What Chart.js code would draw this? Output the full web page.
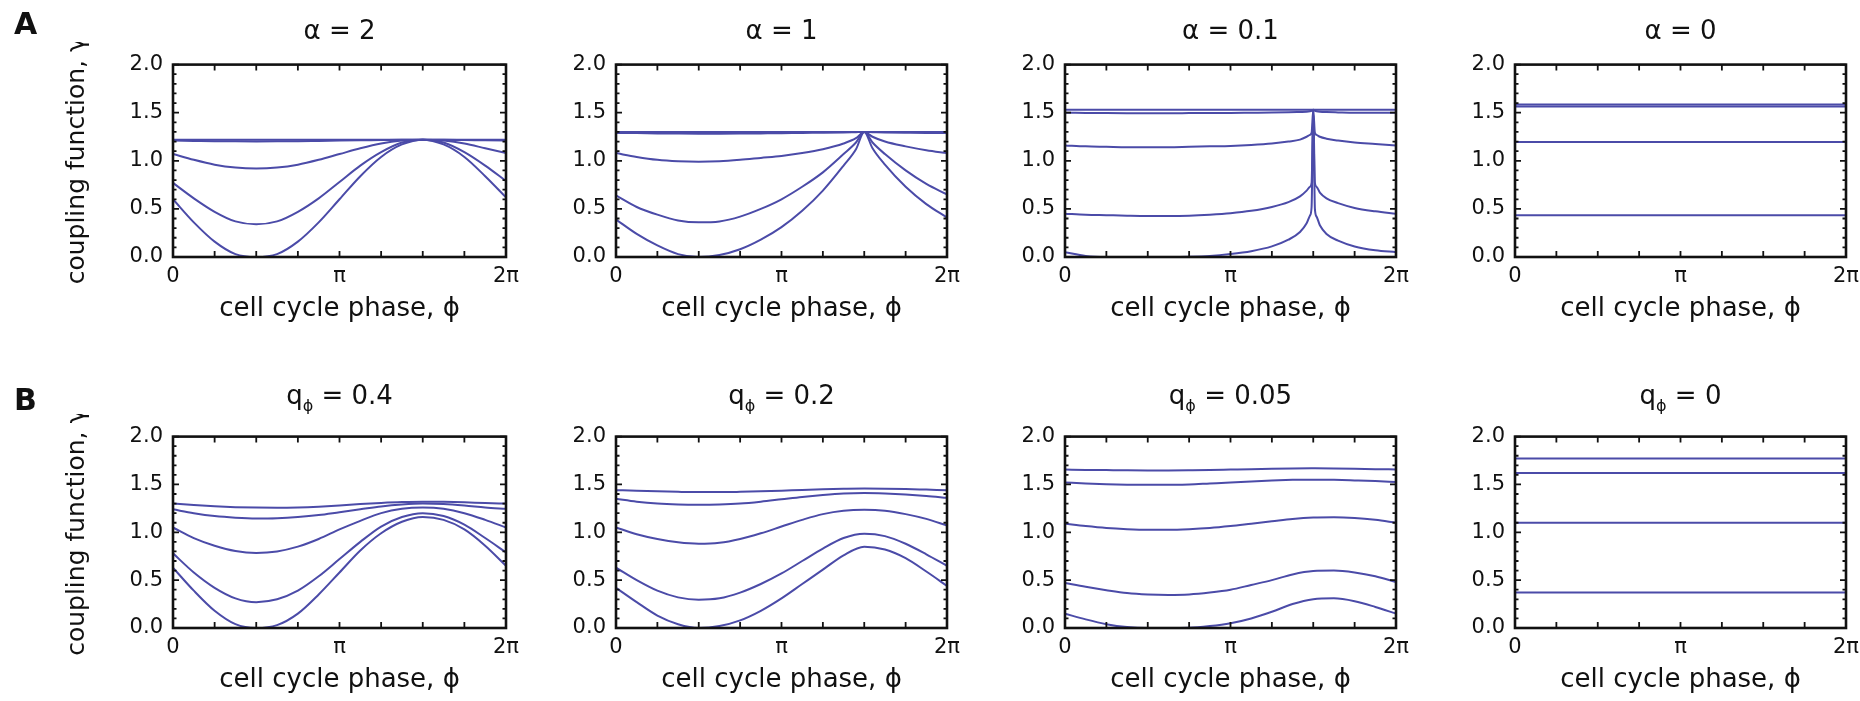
<!DOCTYPE html>
<html>
<head>
<meta charset="utf-8">
<script src="https://cdn.jsdelivr.net/npm/chart.js@4.4.0/dist/chart.umd.min.js"></script>
<style>
body { margin: 0; background: #fff; }
#fig { position: relative; width: 1860px; height: 701px; overflow: hidden; font-family: 'DejaVu Sans', sans-serif; color: #111; }
#fig canvas { position: absolute; }
.title { position: absolute; text-align: center; font-size: 26px; line-height: 30px; white-space: nowrap; }
.title sub { font-size: 16px; vertical-align: -7px; line-height: 0; }
.letter { position: absolute; font-weight: bold; font-size: 30px; line-height: 34px; }
</style>
</head>
<body>
<div id="fig"></div>
<script>
// phase in units of pi (0 .. 2)
const phase = [0, 0.125, 0.25, 0.375, 0.5, 0.625, 0.75, 0.875, 1, 1.125, 1.25, 1.375, 1.5, 1.625, 1.75, 1.875, 2];
const phaseCusp = [0, 0.125, 0.25, 0.375, 0.5, 0.625, 0.75, 0.875, 1, 1.125, 1.25, 1.375, 1.45, 1.5, 1.55, 1.625, 1.75, 1.875, 2];
const phaseSpike = [0, 0.125, 0.25, 0.375, 0.5, 0.625, 0.75, 0.875, 1, 1.125, 1.25, 1.35, 1.42, 1.46, 1.48, 1.49, 1.5, 1.51, 1.52, 1.54, 1.58, 1.65, 1.75, 1.875, 2];
const phaseFlat = [0, 2];

// row A: alpha = 2, 1, 0.1, 0
const alpha2 = [
  [1.22, 1.22, 1.22, 1.22, 1.22, 1.22, 1.22, 1.22, 1.22, 1.22, 1.22, 1.22, 1.22, 1.22, 1.22, 1.22, 1.22],
  [1.21, 1.207, 1.204, 1.202, 1.201, 1.202, 1.204, 1.207, 1.21, 1.213, 1.216, 1.219, 1.22, 1.219, 1.216, 1.213, 1.21],
  [1.07, 1.01, 0.96, 0.93, 0.92, 0.93, 0.96, 1.01, 1.07, 1.13, 1.18, 1.21, 1.22, 1.21, 1.18, 1.13, 1.08],
  [0.77, 0.61, 0.47, 0.37, 0.34, 0.37, 0.47, 0.61, 0.78, 0.95, 1.09, 1.19, 1.22, 1.19, 1.09, 0.95, 0.79],
  [0.60, 0.36, 0.16, 0.03, 0, 0.03, 0.16, 0.36, 0.60, 0.84, 1.04, 1.17, 1.22, 1.17, 1.04, 0.84, 0.62]
];
const alpha1 = [
  [1.30, 1.30, 1.30, 1.30, 1.30, 1.30, 1.30, 1.30, 1.30, 1.30, 1.30, 1.30, 1.30, 1.30, 1.30, 1.30, 1.30, 1.30, 1.30],
  [1.29, 1.288, 1.285, 1.283, 1.282, 1.282, 1.283, 1.285, 1.287, 1.29, 1.292, 1.295, 1.298, 1.30, 1.298, 1.295, 1.292, 1.29, 1.29],
  [1.08, 1.04, 1.01, 0.995, 0.99, 0.995, 1.01, 1.03, 1.05, 1.08, 1.12, 1.18, 1.235, 1.30, 1.25, 1.20, 1.15, 1.11, 1.08],
  [0.64, 0.52, 0.44, 0.38, 0.36, 0.37, 0.42, 0.50, 0.60, 0.73, 0.88, 1.07, 1.19, 1.30, 1.19, 1.07, 0.90, 0.76, 0.65],
  [0.39, 0.24, 0.12, 0.03, 0, 0.02, 0.08, 0.18, 0.31, 0.48, 0.69, 0.95, 1.12, 1.30, 1.13, 0.96, 0.73, 0.55, 0.41]
];
const alpha01 = [
  [1.53, 1.53, 1.53, 1.53, 1.53, 1.53, 1.53, 1.53, 1.53, 1.53, 1.53, 1.53, 1.53, 1.53, 1.53, 1.53, 1.53, 1.53, 1.53, 1.53, 1.53, 1.53, 1.53, 1.53, 1.53],
  [1.50, 1.498, 1.496, 1.495, 1.495, 1.495, 1.496, 1.497, 1.498, 1.50, 1.502, 1.505, 1.508, 1.51, 1.515, 1.52, 1.53, 1.52, 1.515, 1.51, 1.506, 1.503, 1.50, 1.50, 1.50],
  [1.16, 1.15, 1.145, 1.14, 1.14, 1.14, 1.145, 1.15, 1.155, 1.165, 1.18, 1.20, 1.22, 1.25, 1.27, 1.29, 1.53, 1.29, 1.27, 1.25, 1.23, 1.21, 1.19, 1.175, 1.16],
  [0.45, 0.44, 0.435, 0.43, 0.427, 0.427, 0.43, 0.44, 0.455, 0.48, 0.52, 0.57, 0.63, 0.69, 0.73, 0.77, 1.53, 0.77, 0.73, 0.67, 0.61, 0.56, 0.51, 0.475, 0.45],
  [0.05, 0.01, 0, 0, 0, 0, 0.002, 0.01, 0.03, 0.06, 0.11, 0.18, 0.26, 0.35, 0.43, 0.52, 1.53, 0.50, 0.42, 0.33, 0.24, 0.17, 0.11, 0.07, 0.05]
];
const alpha0 = [
  [1.585, 1.585],
  [1.565, 1.565],
  [1.195, 1.195],
  [0.435, 0.435]
];

// row B: q_phi = 0.4, 0.2, 0.05, 0
const q04 = [
  [1.30, 1.285, 1.272, 1.263, 1.258, 1.257, 1.26, 1.268, 1.28, 1.295, 1.307, 1.316, 1.32, 1.318, 1.313, 1.305, 1.30],
  [1.24, 1.20, 1.17, 1.153, 1.145, 1.148, 1.16, 1.18, 1.21, 1.24, 1.27, 1.29, 1.30, 1.295, 1.28, 1.26, 1.245],
  [1.05, 0.94, 0.86, 0.805, 0.785, 0.80, 0.85, 0.93, 1.03, 1.12, 1.20, 1.245, 1.258, 1.245, 1.20, 1.13, 1.05],
  [0.78, 0.58, 0.42, 0.31, 0.27, 0.30, 0.39, 0.54, 0.72, 0.90, 1.06, 1.16, 1.20, 1.17, 1.08, 0.94, 0.79],
  [0.63, 0.39, 0.18, 0.04, 0, 0.03, 0.15, 0.35, 0.58, 0.81, 0.99, 1.11, 1.16, 1.13, 1.03, 0.86, 0.65]
];
const q02 = [
  [1.44, 1.435, 1.428, 1.423, 1.42, 1.42, 1.423, 1.428, 1.435, 1.443, 1.45, 1.455, 1.458, 1.456, 1.452, 1.446, 1.44],
  [1.35, 1.32, 1.30, 1.29, 1.287, 1.29, 1.30, 1.32, 1.345, 1.37, 1.39, 1.405, 1.41, 1.405, 1.395, 1.38, 1.36],
  [1.05, 0.98, 0.93, 0.895, 0.88, 0.89, 0.93, 0.99, 1.06, 1.13, 1.19, 1.225, 1.235, 1.225, 1.19, 1.14, 1.07],
  [0.63, 0.50, 0.39, 0.32, 0.295, 0.31, 0.37, 0.46, 0.57, 0.70, 0.83, 0.94, 0.985, 0.96, 0.88, 0.77, 0.65],
  [0.42, 0.27, 0.13, 0.04, 0, 0.02, 0.08, 0.18, 0.31, 0.46, 0.61, 0.76, 0.85, 0.82, 0.73, 0.59, 0.44]
];
const q005 = [
  [1.655, 1.652, 1.65, 1.648, 1.647, 1.647, 1.648, 1.65, 1.655, 1.66, 1.664, 1.667, 1.668, 1.667, 1.664, 1.66, 1.657],
  [1.52, 1.51, 1.503, 1.498, 1.496, 1.497, 1.50, 1.51, 1.52, 1.532, 1.542, 1.548, 1.55, 1.548, 1.542, 1.535, 1.525],
  [1.09, 1.065, 1.045, 1.033, 1.027, 1.027, 1.033, 1.045, 1.065, 1.09, 1.115, 1.14, 1.155, 1.158, 1.15, 1.13, 1.10],
  [0.47, 0.43, 0.395, 0.365, 0.35, 0.345, 0.35, 0.37, 0.40, 0.45, 0.50, 0.56, 0.595, 0.60, 0.58, 0.54, 0.48],
  [0.15, 0.09, 0.04, 0.01, 0, 0, 0.002, 0.02, 0.05, 0.10, 0.17, 0.25, 0.30, 0.31, 0.28, 0.22, 0.15]
];
const q0 = [
  [1.77, 1.77],
  [1.62, 1.62],
  [1.10, 1.10],
  [0.37, 0.37]
];

const alphaTitles = ['2', '1', '0.1', '0'];
const qTitles = ['0.4', '0.2', '0.05', '0'];
const piLabels = { 0: '0', 1: 'π', 2: '2π' };

const lineColor = '#4b4ba8';
const textColor = '#111';
const fontFam = "'DejaVu Sans', sans-serif";

// where the plot boxes sit on the page
const panelLeft = [173, 616, 1065, 1515];
const panelWidth = [333, 331, 331, 331];
const rowTop = [52, 424];
const rowHeight = [205, 204];

const fig = document.getElementById('fig');

function isHalf(v) {
  return Math.abs(v * 2 - Math.round(v * 2)) < 1e-6;
}

// box round the plot, ticks pointing inwards on all four sides
const frameTicks = {
  id: 'frameTicks',
  afterDatasetsDraw(chart) {
    const { ctx, chartArea: a, scales: { x, y } } = chart;
    ctx.save();
    ctx.strokeStyle = '#111';
    ctx.lineWidth = 1.8;
    ctx.beginPath();
    x.ticks.forEach(t => {
      const px = x.getPixelForValue(t.value);
      ctx.moveTo(px, a.bottom); ctx.lineTo(px, a.bottom - 6);
      ctx.moveTo(px, a.top); ctx.lineTo(px, a.top + 6);
    });
    y.ticks.forEach(t => {
      const py = y.getPixelForValue(t.value);
      const len = isHalf(t.value) ? 6 : 3.5;
      ctx.moveTo(a.left, py); ctx.lineTo(a.left + len, py);
      ctx.moveTo(a.right, py); ctx.lineTo(a.right - len, py);
    });
    ctx.stroke();
    ctx.lineWidth = 2.6;
    ctx.strokeRect(a.left, a.top, a.right - a.left, a.bottom - a.top);
    ctx.restore();
  }
};

function makePanel(row, col, xs, curves, titleHtml) {
  const yW = col === 0 ? 150 : 60;
  const w = yW + panelWidth[col] + 25;
  const h = 10 + rowHeight[row] + 68;
  const canvas = document.createElement('canvas');
  canvas.width = w;
  canvas.height = h;
  canvas.style.left = (panelLeft[col] - yW) + 'px';
  canvas.style.top = (rowTop[row] - 10) + 'px';
  canvas.style.width = w + 'px';
  canvas.style.height = h + 'px';
  fig.appendChild(canvas);

  const title = document.createElement('div');
  title.className = 'title';
  title.style.left = panelLeft[col] + 'px';
  title.style.width = panelWidth[col] + 'px';
  title.style.top = (row === 0 ? 15 : 380) + 'px';
  title.innerHTML = titleHtml;
  fig.appendChild(title);

  new Chart(canvas, {
    type: 'line',
    data: {
      datasets: curves.map(ys => ({
        data: xs.map((x, i) => ({ x: x, y: ys[i] })),
        borderColor: lineColor,
        borderWidth: 2,
        pointRadius: 0,
        fill: false,
        cubicInterpolationMode: 'monotone'
      }))
    },
    options: {
      responsive: false,
      animation: false,
      events: [],
      layout: { padding: { top: 10, right: 25, left: 0, bottom: 0 } },
      plugins: { legend: { display: false }, tooltip: { enabled: false } },
      scales: {
        x: {
          type: 'linear', min: 0, max: 2,
          grid: { display: false, drawTicks: false },
          border: { display: false },
          afterFit: s => { s.height = 68; },
          ticks: {
            stepSize: 0.25, autoSkip: false, maxRotation: 0, padding: 7,
            color: textColor, font: { family: fontFam, size: 21 },
            callback: v => piLabels[v] ?? ''
          },
          title: {
            display: true, text: 'cell cycle phase, ϕ', color: textColor,
            font: { family: fontFam, size: 26 }, padding: { top: 0, bottom: 0 }
          }
        },
        y: {
          min: 0, max: 2,
          grid: { display: false, drawTicks: false },
          border: { display: false },
          afterFit: s => { s.width = yW; },
          ticks: {
            stepSize: 0.1, autoSkip: false, maxTicksLimit: 100, padding: 10,
            color: textColor, font: { family: fontFam, size: 21 },
            callback: v => isHalf(v) ? v.toFixed(1) : ''
          },
          title: {
            display: col === 0, text: 'coupling function, γ', color: textColor,
            font: { family: fontFam, size: 25 }, padding: { top: 39, bottom: 0 }
          }
        }
      }
    },
    plugins: [frameTicks]
  });
}

const rowA = [[phase, alpha2], [phaseCusp, alpha1], [phaseSpike, alpha01], [phaseFlat, alpha0]];
const rowB = [[phase, q04], [phase, q02], [phase, q005], [phaseFlat, q0]];

rowA.forEach((p, c) => makePanel(0, c, p[0], p[1], 'α = ' + alphaTitles[c]));
rowB.forEach((p, c) => makePanel(1, c, p[0], p[1], 'q<sub>ϕ</sub> = ' + qTitles[c]));

['A', 'B'].forEach((l, i) => {
  const d = document.createElement('div');
  d.className = 'letter';
  d.style.left = '14px';
  d.style.top = (i === 0 ? 7 : 383) + 'px';
  d.textContent = l;
  fig.appendChild(d);
});
</script>
</body>
</html>
